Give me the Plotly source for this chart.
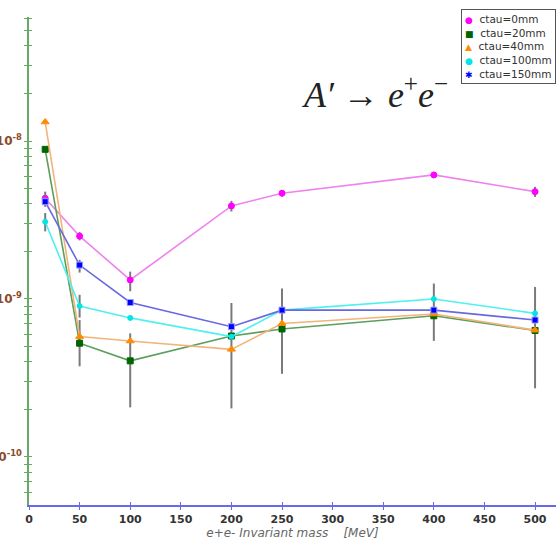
import plotly.graph_objects as go

mass = [16, 50, 100, 200, 250, 400, 500]

ctau0 = [4.34e-9, 2.50e-9, 1.32e-9, 3.88e-9, 4.67e-9, 6.10e-9, 4.78e-9]
ctau0_err_up = [0.44e-9, 0.15e-9, 0.17e-9, 0.30e-9, 0.20e-9, 0.15e-9, 0.35e-9]
ctau0_err_dn = [0.40e-9, 0.15e-9, 0.20e-9, 0.30e-9, 0.20e-9, 0.15e-9, 0.35e-9]

ctau20 = [8.86e-9, 5.25e-10, 4.06e-10, 5.83e-10, 6.46e-10, 7.83e-10, 6.32e-10]
ctau20_err_up = [0.0, 2.1e-10, 2.0e-10, 3.6e-10, 5.2e-10, 4.7e-10, 5.6e-10]
ctau20_err_dn = [0.0, 1.5e-10, 2.0e-10, 3.8e-10, 3.1e-10, 2.4e-10, 3.6e-10]

ctau40 = [1.32e-8, 5.78e-10, 5.42e-10, 4.80e-10, 7.00e-10, 8.03e-10, 6.35e-10]

ctau100 = [3.08e-9, 9.03e-10, 7.59e-10, 5.78e-10, 8.50e-10, 1.00e-9, 8.11e-10]
ctau100_err_up = [0.42e-9, 0.16e-9, 0.0, 0.0, 0.0, 0.0, 0.0]
ctau100_err_dn = [0.40e-9, 0.14e-9, 0.0, 0.0, 0.0, 0.0, 0.0]

ctau150 = [4.13e-9, 1.64e-9, 9.50e-10, 6.68e-10, 8.50e-10, 8.50e-10, 7.36e-10]
ctau150_err_up = [0.30e-9, 0.13e-9, 0.0, 0.0, 0.0, 0.0, 0.0]
ctau150_err_dn = [0.30e-9, 0.17e-9, 0.0, 0.0, 0.0, 0.0, 0.0]

labels = ["ctau=0mm", "ctau=20mm", "ctau=40mm", "ctau=100mm", "ctau=150mm"]
x_ticks = [0, 50, 100, 150, 200, 250, 300, 350, 400, 450, 500]
decades = [-11, -10, -9, -8, -7]

# y tick positions: 1..9 x 10^n, labels only at decades
y_tickvals, y_ticktext = [], []
for d in decades:
    for m in range(1, 10):
        v = m * 10.0 ** d
        if 5e-11 <= v <= 6.1e-8:
            y_tickvals.append(v)
            y_ticktext.append("<b>10<sup>%d</sup></b>" % d if m == 1 else " ")

ERR_COL = "#7a7a7a"

def err(up, dn):
    return dict(type="data", symmetric=False, array=up, arrayminus=dn,
                color=ERR_COL, thickness=2, width=0)

series = [
    (ctau0, err(ctau0_err_up, ctau0_err_dn), "#ee82ee", "#ff00ff", "circle", 6, "#ff00ff"),
    (ctau20, err(ctau20_err_up, ctau20_err_dn), "#5c9e5c", "#006400", "square", 6, "#006400"),
    (ctau40, None, "#f2b47a", "#ff8c00", "triangle-up", 7, "#ff8c00"),
    (ctau100, err(ctau100_err_up, ctau100_err_dn), "#4ef0f0", "#00e5e5", "circle", 5, "#00e5e5"),
    (ctau150, err(ctau150_err_up, ctau150_err_dn), "#6868e0", "#0000ff", "square", 6, "#9999ff"),
]
legend_glyphs = ["●", "■", "▲", "●", "✱"]

fig = go.Figure()
for (ys, e, lc, mc, sym, ms, mlc), name in zip(series, labels):
    kw = {}
    if e is not None:
        kw["error_y"] = e
    fig.add_trace(go.Scatter(
        x=mass, y=ys, mode="lines+markers", name=name, showlegend=False,
        line=dict(color=lc, width=1.6),
        marker=dict(symbol=sym, size=ms, color=mc, line=dict(color=mlc, width=1)),
        **kw))

# overlay trace for inner tick halves
fig.add_trace(go.Scatter(x=[None], y=[None], xaxis="x2", yaxis="y2",
                         showlegend=False, hoverinfo="skip"))

XR = [0, 520.7]
YR = [-10.304, -7.215]

legend_lines = []
for s, g, name in zip(series, legend_glyphs, labels):
    legend_lines.append("<span style='color:%s;font-size:9px'>%s</span>  %s" % (s[3], g, name))
legend_text = "<br>".join(legend_lines)

fig.update_layout(
    width=558, height=541,
    margin=dict(l=29, r=2, t=17, b=36),
    paper_bgcolor="white", plot_bgcolor="white",
    font=dict(family="DejaVu Sans", color="#333333"),
    showlegend=False,
    xaxis=dict(range=XR, showgrid=False, zeroline=False,
               showline=True, linecolor="#6868e8", linewidth=1.5,
               ticks="outside", ticklen=3, tickwidth=1.2, tickcolor="#6868e8",
               tickvals=x_ticks, ticktext=["<b>%d</b>" % v for v in x_ticks],
               tickfont=dict(size=11, color="#333333"),
               title=dict(text="<i>e+e- Invariant mass    [MeV]</i>",
                          font=dict(size=12, color="#666666"), standoff=0),
               automargin=False),
    yaxis=dict(type="log", range=YR, showgrid=False, zeroline=False,
               showline=True, linecolor="#66aa66", linewidth=1.5,
               ticks="outside", ticklen=3, tickwidth=1.2, tickcolor="#66aa66",
               tickvals=y_tickvals, ticktext=y_ticktext,
               tickfont=dict(size=12, color="#8b4a2b"),
               automargin=False),
    xaxis2=dict(range=XR, overlaying="x", anchor="y", side="bottom",
                showgrid=False, zeroline=False, showline=False,
                ticks="inside", ticklen=3, tickwidth=1.2, tickcolor="#6868e8",
                tickvals=x_ticks, showticklabels=False),
    yaxis2=dict(type="log", range=YR, overlaying="y", anchor="x", side="left",
                showgrid=False, zeroline=False, showline=False,
                ticks="inside", ticklen=3, tickwidth=1.2, tickcolor="#66aa66",
                tickvals=y_tickvals, showticklabels=False),
    annotations=[
        dict(text="<i>A′</i> → <i>e</i><sup>+</sup><i>e</i><sup>−</sup>",
             xref="paper", yref="paper", x=0.657, y=0.846,
             xanchor="center", yanchor="middle", showarrow=False,
             font=dict(family="Liberation Serif", size=36, color="#222222")),
        dict(text=legend_text, xref="paper", yref="paper",
             x=1.0, y=1.017, xanchor="right", yanchor="top", align="left",
             showarrow=False, bgcolor="white", bordercolor="#555555", borderwidth=1,
             borderpad=3, font=dict(size=10.5, color="#333333")),
    ],
)

fig.write_html("out.html")
